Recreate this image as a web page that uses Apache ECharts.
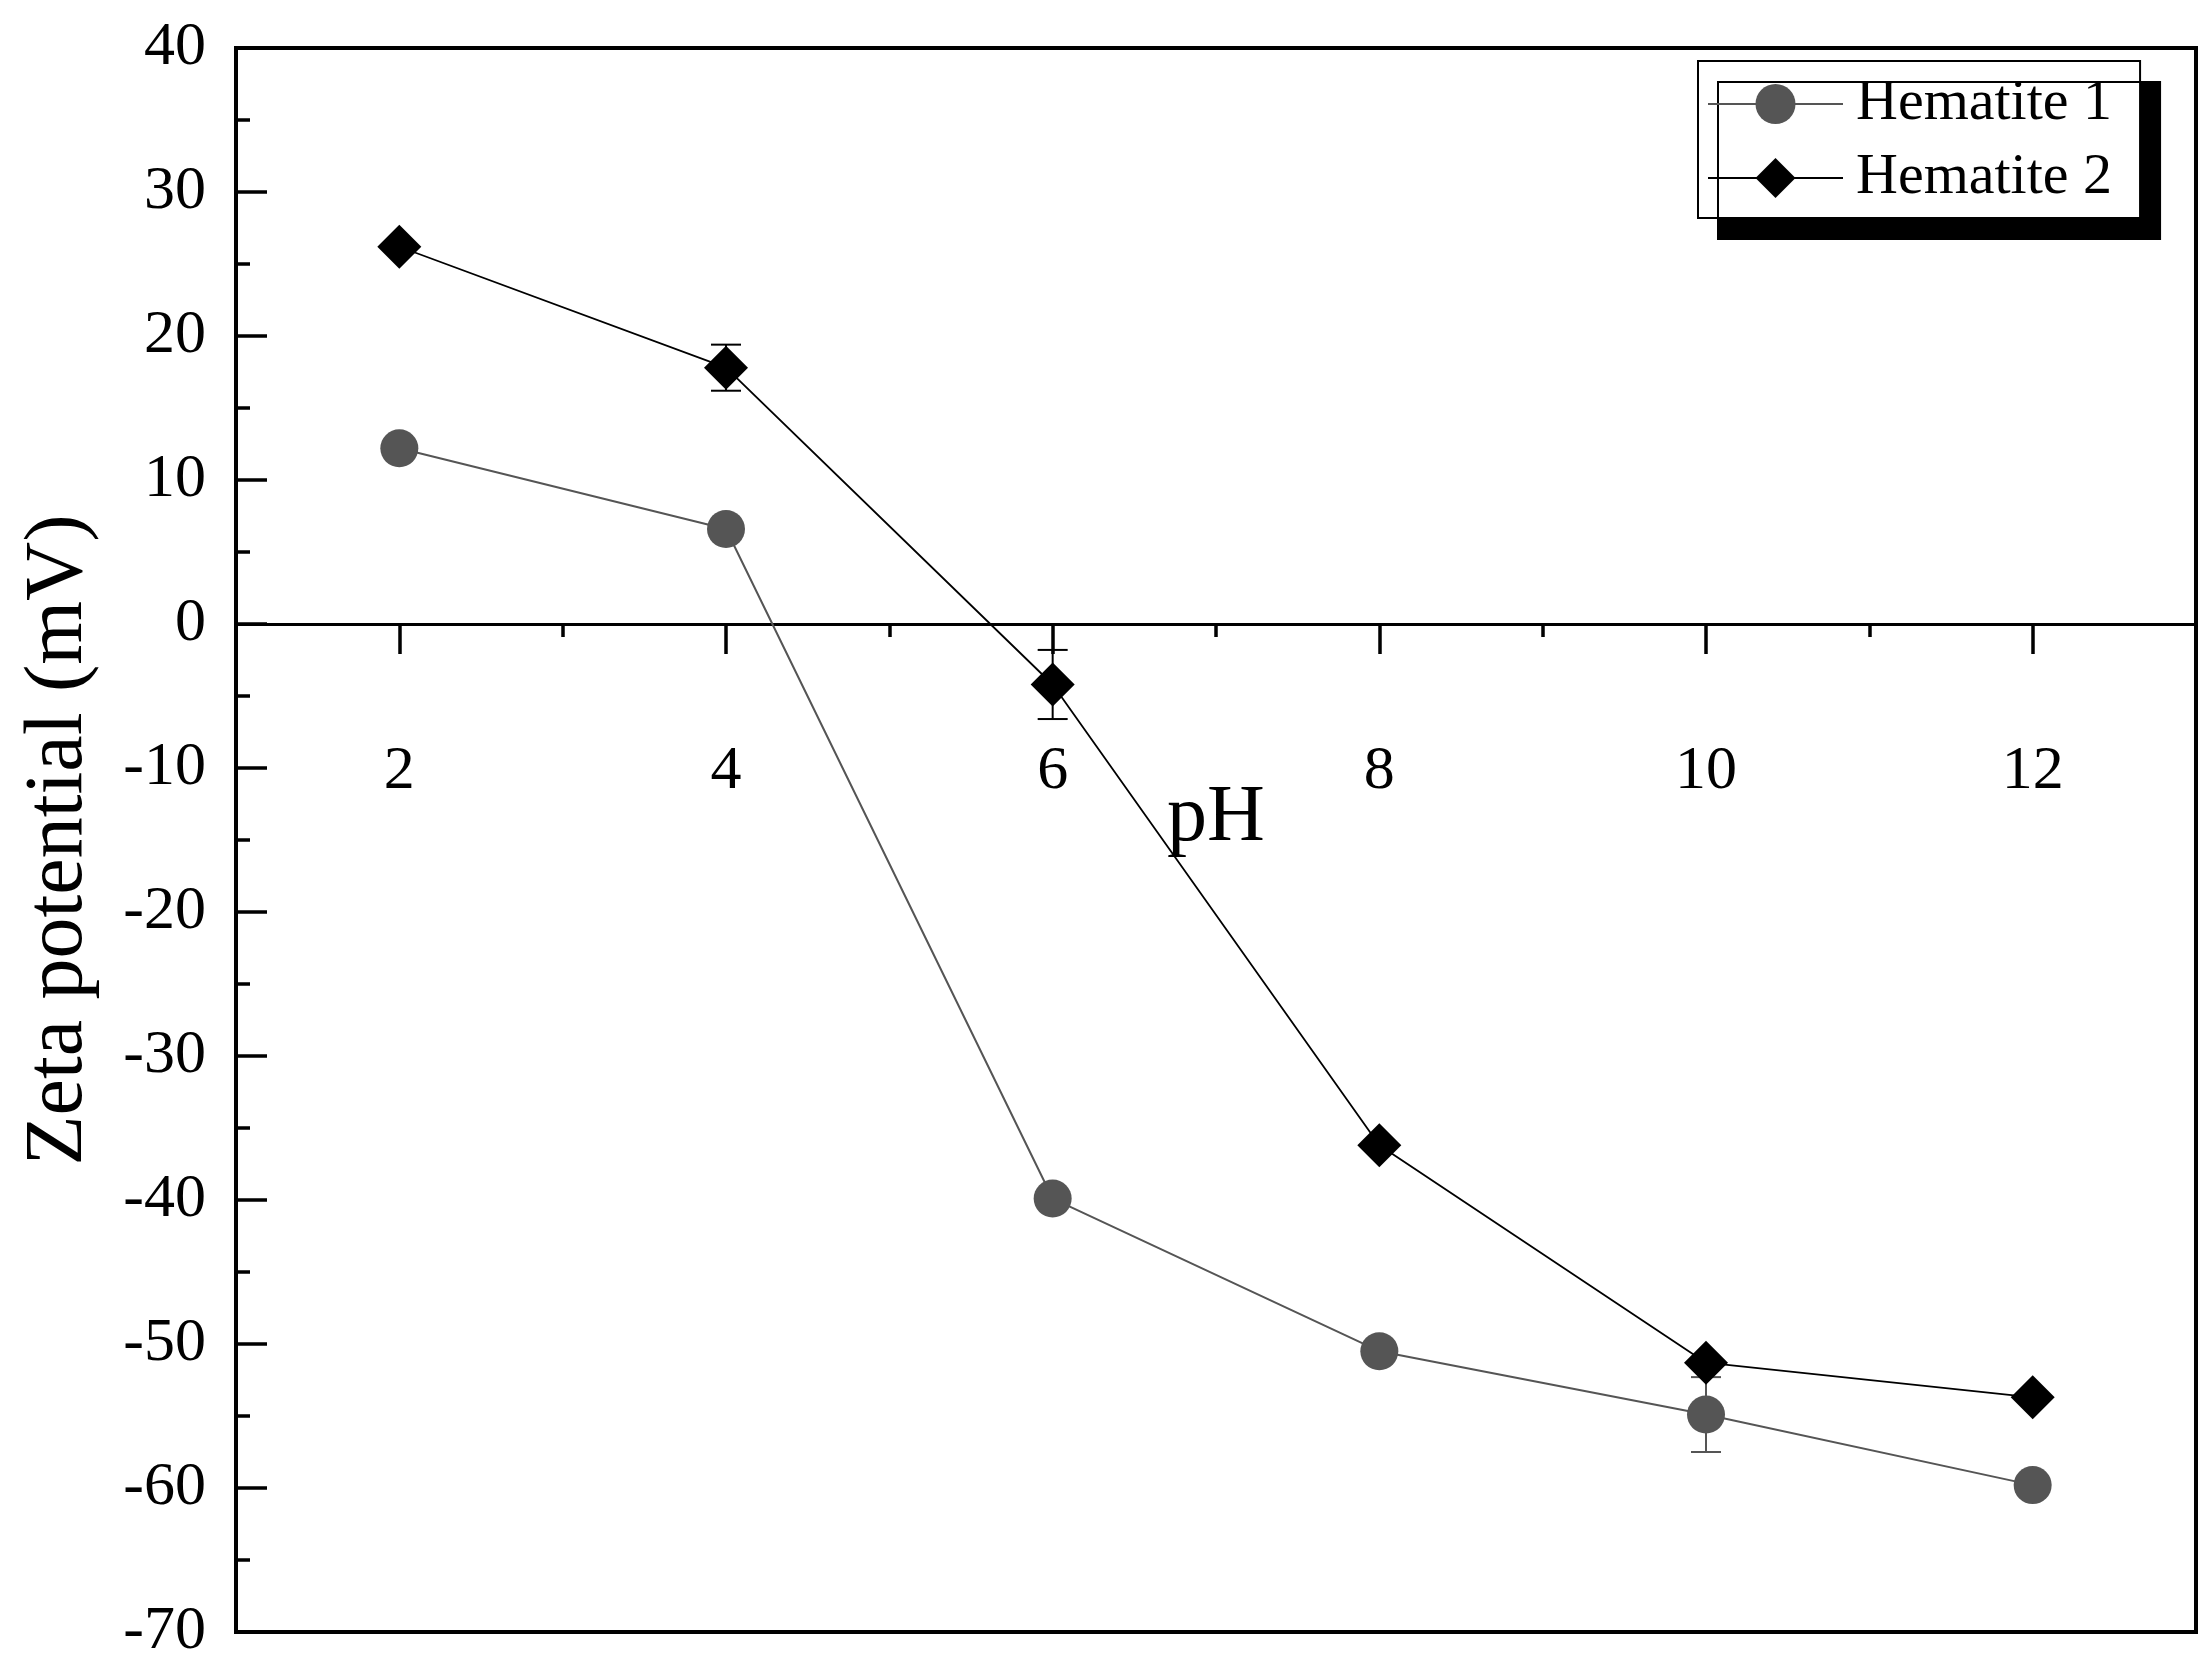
<!DOCTYPE html>
<html>
<head>
<meta charset="utf-8">
<title>Zeta potential vs pH</title>
<script src="https://cdn.jsdelivr.net/npm/echarts@6.0.0/dist/echarts.min.js"></script>
<style>
  html, body { margin: 0; padding: 0; background: #fff; }
  #chart { width: 2212px; height: 1680px; }
</style>
</head>
<body>
<div id="chart"></div>
<script>
// data
var phValues = [2, 4, 6, 8, 10, 12];
var hematite1 = [12.2, 6.6, -39.9, -50.5, -54.9, -59.8];
var hematite2 = [26.2, 17.8, -4.2, -36.2, -51.3, -53.7];
// error bars (0 = hidden behind the marker)
var hematite1Err = [0, 0, 0, 0, 2.6, 0];
var hematite2Err = [0, 1.6, 2.4, 0, 0, 0];
var xMajorTicks = [2, 4, 6, 8, 10, 12];
var xMinorTicks = [3, 5, 7, 9, 11];

var FONT = "Liberation Serif";

// grid is 1584px tall for -70..40, so the zero line sits 1008px above the bottom
var GRID_TOP = 48, GRID_BOTTOM = 48, GRID_H = 1680 - GRID_TOP - GRID_BOTTOM;
var zeroFromBottom = GRID_H * 70 / 110;
var zeroFromTop = GRID_H - zeroFromBottom;

function toPoints(ys) {
  return phValues.map(function (x, i) { return [x, ys[i]]; });
}
function toErrors(ys, errs) {
  var out = [];
  phValues.forEach(function (x, i) {
    if (errs[i] > 0) out.push([x, ys[i] - errs[i], ys[i] + errs[i]]);
  });
  return out;
}
function errorBar(color) {
  return function (params, api) {
    var x = api.value(0);
    var lo = api.coord([x, api.value(1)]);
    var hi = api.coord([x, api.value(2)]);
    var half = 15;
    var style = { stroke: color, lineWidth: 2 };
    return {
      type: "group",
      children: [
        { type: "line", shape: { x1: lo[0], y1: lo[1], x2: hi[0], y2: hi[1] }, style: style },
        { type: "line", shape: { x1: lo[0] - half, y1: lo[1], x2: lo[0] + half, y2: lo[1] }, style: style },
        { type: "line", shape: { x1: hi[0] - half, y1: hi[1], x2: hi[0] + half, y2: hi[1] }, style: style }
      ]
    };
  };
}

var chart = echarts.init(document.getElementById("chart"));

var option = {
  backgroundColor: "#fff",
  animation: false,
  grid: {
    left: 236, right: 16, top: GRID_TOP, bottom: GRID_BOTTOM,
    containLabel: false, outerBoundsMode: "none",
    show: true, borderColor: "#000", borderWidth: 4, backgroundColor: "transparent"
  },
  legend: {
    data: ["Hematite 1", "Hematite 2"],
    orient: "vertical",
    left: 1698, top: 61,
    padding: [14, 28, 11, 9],
    itemWidth: 135, itemHeight: 50, itemGap: 16,
    backgroundColor: "#fff",
    borderColor: "#000", borderWidth: 2, borderRadius: 0,
    shadowColor: "#000", shadowBlur: 0, shadowOffsetX: 20, shadowOffsetY: 21,
    textStyle: { fontFamily: FONT, fontSize: 58, color: "#000", padding: [0, 0, 0, 8] }
  },
  xAxis: [
    {
      // main pH axis, shifted up onto the zero line
      type: "value", min: 1, max: 13,
      position: "bottom", offset: -zeroFromBottom,
      axisLine: { onZero: false, lineStyle: { color: "#000", width: 3 } },
      axisTick: { show: true, inside: false, length: 30, customValues: xMajorTicks,
        lineStyle: { color: "#000", width: 3.5 } },
      axisLabel: { customValues: xMajorTicks, margin: 117, fontFamily: FONT, fontSize: 62, color: "#000" },
      splitLine: { show: false },
      name: "pH", nameLocation: "middle", nameGap: 155, nameMoveOverlap: false,
      nameTextStyle: { fontFamily: FONT, fontSize: 80, color: "#000" }
    },
    {
      // minor ticks only
      type: "value", min: 1, max: 13,
      position: "top", offset: -zeroFromTop,
      axisLine: { show: false, onZero: false },
      axisTick: { show: true, inside: true, length: 13, customValues: xMinorTicks,
        lineStyle: { color: "#000", width: 3.5 } },
      axisLabel: { show: false },
      splitLine: { show: false }
    }
  ],
  yAxis: {
    type: "value", min: -70, max: 40, interval: 10,
    axisLine: { show: true, onZero: false, lineStyle: { color: "#000", width: 4 } },
    axisTick: { show: true, inside: true, length: 31, lineStyle: { color: "#000", width: 3.5 } },
    minorTick: { show: true, splitNumber: 2, length: 14, lineStyle: { color: "#000", width: 3.5 } },
    axisLabel: { margin: 30, fontFamily: FONT, fontSize: 62, color: "#000" },
    splitLine: { show: false },
    name: "Zeta potential (mV)", nameLocation: "middle", nameGap: 136, nameMoveOverlap: false,
    nameTextStyle: { fontFamily: FONT, fontSize: 82, color: "#000" }
  },
  series: [
    {
      name: "err1", type: "custom", xAxisIndex: 0, yAxisIndex: 0, z: 1, silent: true,
      renderItem: errorBar("#555555"),
      data: toErrors(hematite1, hematite1Err)
    },
    {
      name: "err2", type: "custom", xAxisIndex: 0, yAxisIndex: 0, z: 1, silent: true,
      renderItem: errorBar("#000000"),
      data: toErrors(hematite2, hematite2Err)
    },
    {
      name: "Hematite 1", type: "line", xAxisIndex: 0,
      symbol: "circle", symbolSize: 38,
      itemStyle: { color: "#555555" },
      lineStyle: { color: "#555555", width: 2 },
      data: toPoints(hematite1)
    },
    {
      name: "Hematite 2", type: "line", xAxisIndex: 0,
      symbol: "diamond", symbolSize: 44,
      itemStyle: { color: "#000000" },
      lineStyle: { color: "#000000", width: 1.8 },
      data: toPoints(hematite2)
    }
  ]
};

chart.setOption(option);
</script>
</body>
</html>
